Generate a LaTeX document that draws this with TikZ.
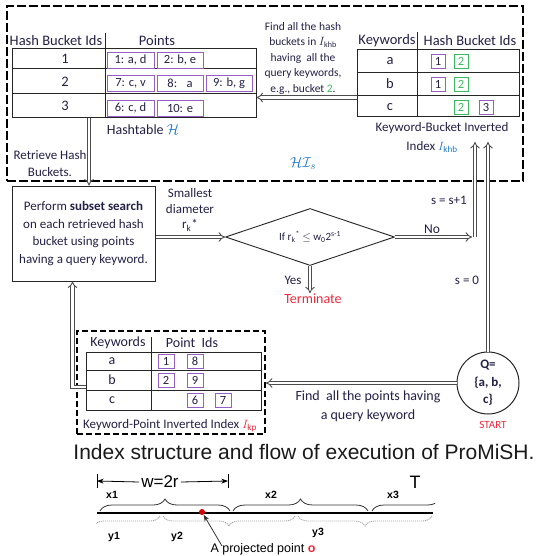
\documentclass[tikz,border=0pt]{standalone}
\usepackage{fontspec}
\setmainfont{Carlito}
\newfontfamily\arialfont{Liberation Sans}
\usepackage{xcolor}
\usepackage{amsmath}
\usetikzlibrary{arrows.meta,shapes.geometric,decorations.pathreplacing,calc}

\definecolor{ink}{RGB}{35,32,70}
\definecolor{boxpurple}{RGB}{150,95,200}
\definecolor{boxgreen}{RGB}{60,185,95}
\definecolor{hblue}{RGB}{30,120,205}
\definecolor{termred}{RGB}{240,40,60}

\begin{document}
\begin{tikzpicture}[x=1pt,y=1pt,yscale=-1,xscale=1,
    txt/.style={text=ink, inner sep=0.75pt, align=center},
    hdr/.style={txt, font=\fontsize{14.5}{16}\selectfont},
    tbl/.style={draw=black!85, line width=1pt},
    pbox/.style={draw=boxpurple, line width=0.9pt, text=ink, inner sep=0pt, minimum width=46pt, minimum height=16pt, font=\fontsize{12.5}{14}\selectfont},
    nbox/.style={draw=#1, line width=0.9pt, inner sep=0pt, minimum width=14pt, minimum height=14pt, font=\fontsize{12.5}{14}\selectfont},
    dblarrow/.style={line width=0.9pt, draw=black!70, double=white, double distance=2.4pt, -{Implies}},
    bigdash/.style={draw=black, line width=2.2pt, dash pattern=on 9pt off 3pt},
    meddash/.style={draw=black, line width=1.8pt, dash pattern=on 6pt off 3pt},
    upbrace/.style={decorate, decoration={brace, amplitude=12pt}, line width=0.8pt, black!80},
    lowbrace/.style={decorate, decoration={brace, amplitude=10pt, mirror}, line width=0.8pt, gray!75, dash pattern=on 1.2pt off 0.8pt}]
    \useasboundingbox (0,0) rectangle (536,556);

    %Shape: Dashed frame HI_s
    \node[bigdash, minimum width=516pt, minimum height=175pt] (hibox) at (265,93.5) {};

    %Shape: Hashtable
    \node[tbl, minimum width=244pt, minimum height=69pt, inner sep=0pt] (htab) at (134,83.5) {};
    \draw[tbl] (12,69) -- (256,69) (12,94) -- (256,94) (105,33) -- (105,118);
    % Text Node
    \node[hdr] (hbIds) at (56,41) {Hash Bucket Ids};
    \node[hdr] (ptsHdr) at (157,41) {Points};
    \node[hdr] (hb1) at (65,59) {1};
    \node[hdr] (hb2) at (65,82) {2};
    \node[hdr] (hb3) at (65,106) {3};
    % Point boxes
    \node[pbox, minimum width=47pt] (p1) at (130.5,60) {1: a, d};
    \node[pbox] (p2) at (180,60) {2: b, e};
    \node[pbox, minimum width=47pt] (p7) at (130.5,83.5) {7: c, v};
    \node[pbox] (p8) at (180,83.5) {8:~~ a};
    \node[pbox] (p9) at (229,83.5) {9: b, g};
    \node[pbox, minimum width=47pt] (p6) at (130.5,108) {6: c, d};
    \node[pbox] (p10) at (180,108) {10: e};
    % Text Node
    \node[hdr, font=\fontsize{14}{16}\selectfont] (hcap) at (143,130) {Hashtable {\color{hblue}$\mathcal{H}$}};
    \node[txt, font=\fontsize{13}{17}\selectfont] (retr) at (50,163.5) {Retrieve Hash\\Buckets.};

    %Shape: Keyword-Bucket table
    \node[tbl, minimum width=162pt, minimum height=67pt, inner sep=0pt] (kbtab) at (438,83.5) {};
    \draw[tbl] (357,73) -- (519,73) (357,96) -- (519,96) (417,32) -- (417,117);
    % Text Node
    \node[hdr] (kwHdr) at (387,41) {Keywords};
    \node[hdr] (kbIds) at (470,41) {Hash Bucket Ids};
    \node[hdr] (kwa) at (390,61) {a};
    \node[hdr] (kwb) at (390,84) {b};
    \node[hdr] (kwc) at (390,107) {c};
    % Bucket boxes
    \node[nbox=boxpurple, text=ink] (ba1) at (438,61) {1};
    \node[nbox=boxgreen, text=boxgreen] (ba2) at (461,61) {2};
    \node[nbox=boxpurple, text=ink] (bb1) at (438,84) {1};
    \node[nbox=boxgreen, text=boxgreen] (bb2) at (461,84) {2};
    \node[nbox=boxgreen, text=boxgreen] (bc2) at (461,107) {2};
    \node[nbox=boxpurple, text=ink] (bc3) at (486,107) {3};
    % Text Node
    \node[txt, font=\fontsize{13}{15}\selectfont] (kbcap) at (442,128) {Keyword-Bucket Inverted};
    \node[txt, font=\fontsize{13}{15}\selectfont] (kbidx) at (432,147) {Index {\color{hblue}$I_{\mathrm{khb}}$}};
    \node[txt, font=\fontsize{11.5}{15.5}\selectfont] (findHash) at (303,58) {Find all the hash\\buckets in $I_{\mathrm{khb}}$\\having~ all the\\query keywords,\\e.g., bucket {\color{boxgreen}2}.};
    \node[txt, font=\fontsize{15}{16}\selectfont] (hisLbl) at (303,164) {\color{hblue}$\mathcal{H}\mathcal{I}_s$};

    %Shape: Subset search box
    \node[draw=black!85, line width=1pt, minimum width=143pt, minimum height=95pt, txt, font=\fontsize{13}{17.7}\selectfont] (search) at (83.5,233.5) {Perform \textbf{subset search}\\on each retrieved hash\\bucket using points\\having a query keyword.};
    % Text Node
    \node[txt, font=\fontsize{13}{15.5}\selectfont] (smallest) at (190,210) {Smallest\\diameter\\r\textsubscript{k}*};

    %Shape: Diamond
    \node[diamond, draw=black!85, line width=0.9pt, minimum width=169pt, minimum height=57pt, aspect=3, inner sep=0pt, text=ink, font=\fontsize{11}{12}\selectfont] (cond) at (310,237) {If r\textsubscript{k}\textsuperscript{*} $\leq$ w\textsubscript{0}2\textsuperscript{s-1}};
    % Text Node
    \node[txt, font=\fontsize{13.5}{15}\selectfont] (noLbl) at (432,229) {No};
    \node[txt, font=\fontsize{13}{15}\selectfont] (incLbl) at (449,200) {s = s+1};
    \node[txt, font=\fontsize{13}{15}\selectfont] (zeroLbl) at (467,280) {s = 0};
    \node[txt, font=\fontsize{13}{15}\selectfont] (yesLbl) at (293,280) {Yes};
    \node[txt, text=termred, font=\fontsize{14}{15}\selectfont] (term) at (313,299) {Terminate};

    %Shape: Query circle
    \node[circle, draw=black!85, line width=1pt, minimum size=62pt, inner sep=0pt, txt, font=\bfseries\fontsize{13}{17.5}\selectfont] (query) at (488,383) {Q=\\\{a, b,\\c\}};
    \node[txt, text=termred, font=\fontsize{11}{12}\selectfont] (start) at (493,425) {START};

    %Shape: Keyword-Point index
    \node[meddash, minimum width=188pt, minimum height=103pt] (kpbox) at (171,382.5) {};
    \node[tbl, minimum width=175pt, minimum height=58pt, inner sep=0pt] (kptab) at (173.5,381) {};
    \draw[tbl] (86,370) -- (261,370) (86,390) -- (261,390) (151,337) -- (151,410);
    % Text Node
    \node[hdr, font=\fontsize{14}{16}\selectfont] (kpKw) at (118,343) {Keywords};
    \node[hdr, font=\fontsize{14}{16}\selectfont] (kpIds) at (192,343) {Point~ Ids};
    \node[hdr, font=\fontsize{14}{16}\selectfont] (kpa) at (112,361) {a};
    \node[hdr, font=\fontsize{14}{16}\selectfont] (kpb) at (112,380) {b};
    \node[hdr, font=\fontsize{14}{16}\selectfont] (kpc) at (112,400) {c};
    % Point id boxes
    \node[nbox=boxpurple, minimum width=16pt, text=ink] (k1) at (166,361) {1};
    \node[nbox=boxpurple, minimum width=16pt, text=ink] (k8) at (195,361) {8};
    \node[nbox=boxpurple, minimum width=16pt, text=ink] (k2) at (166,380) {2};
    \node[nbox=boxpurple, minimum width=16pt, text=ink] (k9) at (195,380) {9};
    \node[nbox=boxpurple, minimum width=16pt, text=ink] (k6) at (195,400) {6};
    \node[nbox=boxpurple, minimum width=16pt, text=ink] (k7) at (223,400) {7};
    % Text Node
    \node[txt, font=\fontsize{13}{15}\selectfont] (kpcap) at (170,426) {Keyword-Point Inverted Index {\color{termred}$I_{\mathrm{kp}}$}};
    \node[txt, font=\fontsize{14}{19}\selectfont] (findPts) at (368,406) {Find~ all the points having\\a query keyword};

    %Connectors
    \coordinate (kbOut) at ($(kbtab.west)+(0,14)$);
    \coordinate (htDown) at ($(htab.south -| search.north)+(5.5,0)$);
    \coordinate (noTurn) at (475,237);
    \coordinate (kbUpA) at (475,142);
    \coordinate (kpOut) at ($(kptab.west)+(0,6)$);
    \coordinate (searchIn) at ($(search.south)+(-11,0)$);
    \draw[dblarrow] (kbOut) -- (kbOut -| htab.east);
    \draw[dblarrow] (htDown) -- (htDown |- search.north);
    \draw[dblarrow] (search.east |- cond.west) -- (cond.west);
    \draw[dblarrow] (cond.east) -- ($(noTurn)+(-3,0)$);
    \draw[dblarrow] (noTurn) -- (kbUpA);
    \draw[dblarrow] (query.north) -- (query.north |- kbUpA);
    \draw[dblarrow] (cond.south) -- (cond.south |- term.north);
    \draw[dblarrow] (query.west) -- (query.west -| kpbox.east);
    \draw[dblarrow] (kpOut) -- (kpOut -| searchIn) -- (searchIn);

    % Caption
    \node[font=\arialfont\fontsize{21}{23}\selectfont, text=black!90] (caption) at (304,452) {Index structure and flow of execution of ProMiSH.};

    %Shape: Projection line
    \coordinate (tL) at (97,513);
    \coordinate (tR) at (433,513);
    \coordinate (wL) at (97,481);
    \coordinate (wR) at (228,481);
    \draw[line width=1.4pt] (tL) -- (tR);
    \draw[line width=0.8pt] ($(wL)+(0,-7)$) -- ($(wL)+(0,7)$) ($(wR)+(0,-7)$) -- ($(wR)+(0,7)$);
    % Text Node
    \node[font=\arialfont\fontsize{17}{17}\selectfont, inner sep=2pt] (wLbl) at (160,482) {w=2r};
    \draw[-{Stealth}, line width=0.8pt] (wLbl.west) -- (wL);
    \draw[-{Stealth}, line width=0.8pt] (wLbl.east) -- (wR);
    \node[font=\arialfont\fontsize{18}{18}\selectfont] (tLbl) at (415,482) {T};
    \node[font=\arialfont\bfseries\fontsize{10.5}{11}\selectfont] (x1Lbl) at (112,495) {x1};
    \node[font=\arialfont\bfseries\fontsize{10.5}{11}\selectfont] (x2Lbl) at (271,495) {x2};
    \node[font=\arialfont\bfseries\fontsize{10.5}{11}\selectfont] (x3Lbl) at (393,495) {x3};
    \node[font=\arialfont\bfseries\fontsize{10.5}{11}\selectfont] (y1Lbl) at (114,537) {y1};
    \node[font=\arialfont\bfseries\fontsize{10.5}{11}\selectfont] (y2Lbl) at (177,537) {y2};
    \node[font=\arialfont\bfseries\fontsize{10.5}{11}\selectfont] (y3Lbl) at (318,533) {y3};

    % Braces
    \begin{scope}
        \clip (96,488) rectangle (435,540);
        \draw[upbrace] (100,511) -- (230,511);
        \draw[upbrace] (233,511) -- (368,511);
        \draw[upbrace] (372,511) -- (507,511);
        \draw[lowbrace] (28,516) -- (160,516);
        \draw[lowbrace] (163,516) -- (295,516);
        \draw[lowbrace] (298,516) -- (432,516);
    \end{scope}

    %Shape: Projected point
    \node[circle, fill=red!85!black, inner sep=0pt, minimum size=6pt] (projDot) at (202,512) {};
    \node[font=\arialfont\fontsize{12.5}{13}\selectfont, inner sep=0.75pt] (projLbl) at (263,549) {A projected point {\color{termred}\textbf{o}}};
    \coordinate (projFrom) at (222,546);
    \draw[-{Stealth}, black!80, line width=0.8pt] (projFrom) -- (projDot);
\end{tikzpicture}
\end{document}
